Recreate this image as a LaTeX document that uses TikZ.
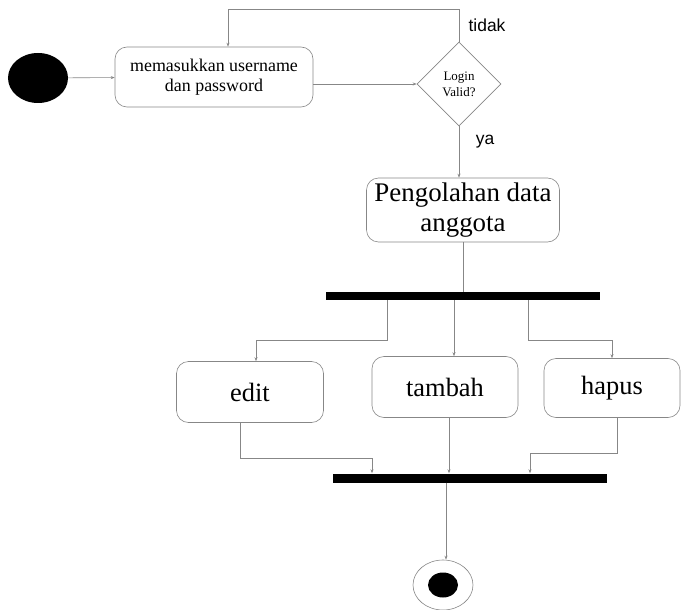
\documentclass[tikz,border=0pt]{standalone}
\usepackage{fontspec}
\setmainfont{Liberation Serif}
\newfontfamily\labelfont{Liberation Sans}
\usetikzlibrary{shapes.geometric, arrows.meta, positioning}
\definecolor{linegray}{RGB}{135,135,135}

\begin{document}
\begin{tikzpicture}[x=1bp, y=-1bp,
        line/.style={draw=linegray, line width=0.6pt},
        flow/.style={line, -{Stealth[length=4bp, width=3bp]}},
        act/.style={draw=linegray, line width=0.6pt, rounded corners=12bp, align=center, inner sep=0pt},
        bar/.style={fill=black, draw=none, inner sep=0pt},
        guard/.style={font=\labelfont\fontsize{17.5}{20}\selectfont}]
    \useasboundingbox (0,0) rectangle (681,610);

    % start, login and check
    \node[ellipse, fill=black, minimum width=60bp, minimum height=50bp, inner sep=0pt] (start) at (38,78) {};
    \node[act, minimum width=198bp, minimum height=60bp, font=\fontsize{18}{20}\selectfont] (login) at (214,77) {memasukkan username\\dan password};
    \node[diamond, draw=linegray, line width=0.6pt, minimum width=84bp, minimum height=84bp, inner sep=0pt,
        align=center, font=\fontsize{13}{16}\selectfont] (valid) at (459,84) {Login\\Valid?};
    \node[guard] (tidak) at (487,25) {tidak};
    \node[guard] (ya) at (485,142) {ya};

    \node[act, minimum width=193bp, minimum height=64bp, font=\fontsize{27}{30}\selectfont] (olah) at (463,210) {Pengolahan data\\anggota};

    % fork / join
    \node[bar, minimum width=274bp, minimum height=8bp] (fork) at (463,296) {};
    \node[act, minimum width=147bp, minimum height=61bp, font=\fontsize{26.5}{30}\selectfont] (edit) at (250,392) {edit};
    \node[act, minimum width=146bp, minimum height=61bp, font=\fontsize{26.5}{30}\selectfont] (tambah) at (445,387) {tambah};
    \node[act, minimum width=136bp, minimum height=59bp, font=\fontsize{26.5}{30}\selectfont] (hapus) at (612,388) {hapus};
    \node[bar, minimum width=274bp, minimum height=9bp] (join) at (470,478) {};

    \node[ellipse, draw=linegray, line width=0.6pt, minimum width=60bp, minimum height=50bp, inner sep=0pt] (end) at (443,585) {};
    \node[ellipse, fill=black, minimum width=30bp, minimum height=25bp, inner sep=0pt] (endin) at (end) {};

    % connectors
    \draw[flow] (start) -- (login);
    \draw[flow] (login.east |- valid) -- (valid.west);
    \draw[flow] (valid.north) -- ++(0,-32) -| ([xshift=14bp]login.north);
    \draw[flow] (valid.south) -- (valid.south |- olah.north);
    \draw[line] (olah.south) -- (olah.south |- fork.north);

    \draw[flow] ([xshift=-76bp]fork.south) -- ++(0,40) -| ([xshift=6bp]edit.north);
    \draw[flow] ([xshift=9bp]tambah.north |- fork.south) -- ([xshift=9bp]tambah.north);
    \draw[flow] ([xshift=65bp]fork.south) -- ++(0,40) -| (hapus.north);

    \draw[flow] ([xshift=-10bp]edit.south) -- ++(0,35) -| ([xshift=-98bp]join.north);
    \draw[flow] ([xshift=4bp]tambah.south) -- ([xshift=4bp]tambah.south |- join.north);
    \draw[flow] ([xshift=5bp]hapus.south) -- ++(0,35) -| ([xshift=60bp]join.north);

    \draw[flow] ([xshift=3bp]end.north |- join.south) -- ([xshift=3bp]end.north);
\end{tikzpicture}
\end{document}
